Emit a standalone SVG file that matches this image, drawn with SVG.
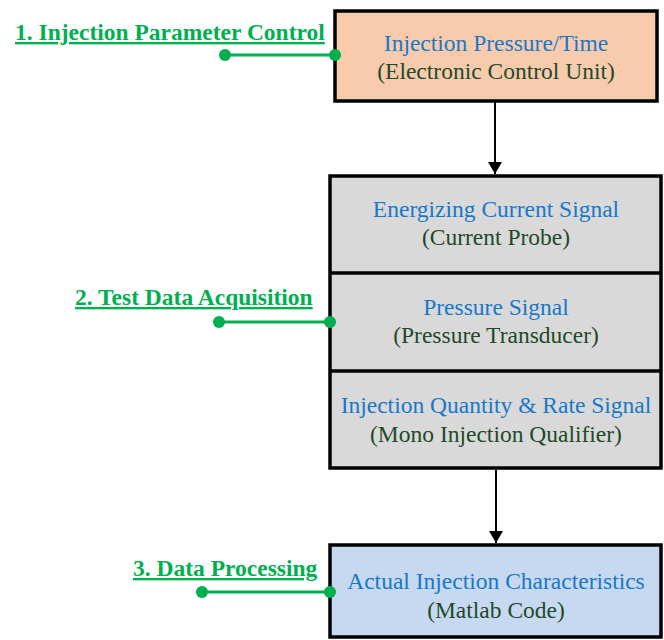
<svg xmlns="http://www.w3.org/2000/svg" width="664" height="640" viewBox="0 0 664 640">
<style>
.box{stroke:#000;stroke-width:3.5}
text{font-family:"Liberation Serif","DejaVu Serif",serif;font-size:23.5px}
.t1{fill:#1878C8;text-anchor:middle}
.t2{fill:#1E4A2A;text-anchor:middle}
.lab{font-weight:bold;fill:#00B050;text-decoration:underline}
.gl{stroke:#00B050;stroke-width:3}
.dot{fill:#00B050}
.arr{stroke:#000;stroke-width:2;marker-end:url(#ah)}
</style>
<defs>
<marker id="ah" markerWidth="12" markerHeight="14" refX="12" refY="7" orient="auto" markerUnits="userSpaceOnUse">
<path d="M0,0 L12,7 L0,14 Z" fill="#000"/>
</marker>
</defs>
<rect width="664" height="640" fill="#fff"/>
<g id="connectors">
<line class="arr" x1="495" y1="102" x2="495" y2="174"/>
<line class="arr" x1="496" y1="470" x2="496" y2="543"/>
</g>
<g id="ecu">
<rect class="box" x="335" y="11" width="322" height="90" fill="#F8CBAD"/>
<text class="t1" x="496" y="51">Injection Pressure/Time</text>
<text class="t2" x="496" y="79">(Electronic Control Unit)</text>
</g>
<g id="acquisition">
<rect class="box" x="330" y="176" width="331" height="292" fill="#D9D9D9"/>
<line class="box" x1="330" y1="273" x2="661" y2="273"/>
<line class="box" x1="330" y1="371" x2="661" y2="371"/>
</g>
<g id="current">
<text class="t1" x="496" y="217">Energizing Current Signal</text>
<text class="t2" x="496" y="245">(Current Probe)</text>
</g>
<g id="pressure">
<text class="t1" x="496" y="315">Pressure Signal</text>
<text class="t2" x="496" y="343">(Pressure Transducer)</text>
</g>
<g id="quantity">
<text class="t1" x="496" y="413">Injection Quantity &amp; Rate Signal</text>
<text class="t2" x="496" y="442">(Mono Injection Qualifier)</text>
</g>
<g id="processing">
<rect class="box" x="330" y="545" width="331" height="92" fill="#C6D9F0"/>
<text class="t1" x="496" y="589">Actual Injection Characteristics</text>
<text class="t2" x="496" y="618">(Matlab Code)</text>
</g>
<g id="label1">
<text class="lab" x="15" y="40">1. Injection Parameter Control</text>
<line class="gl" x1="225" y1="55" x2="335" y2="55"/>
<circle class="dot" cx="225" cy="55" r="6"/>
<circle class="dot" cx="335" cy="55" r="6"/>
</g>
<g id="label2">
<text class="lab" x="75" y="305">2. Test Data Acquisition</text>
<line class="gl" x1="219" y1="322" x2="330" y2="322"/>
<circle class="dot" cx="219" cy="322" r="6"/>
<circle class="dot" cx="330" cy="322" r="6"/>
</g>
<g id="label3">
<text class="lab" x="133" y="576">3. Data Processing</text>
<line class="gl" x1="202" y1="592" x2="330" y2="592"/>
<circle class="dot" cx="202" cy="592" r="6"/>
<circle class="dot" cx="330" cy="592" r="6"/>
</g>
</svg>
